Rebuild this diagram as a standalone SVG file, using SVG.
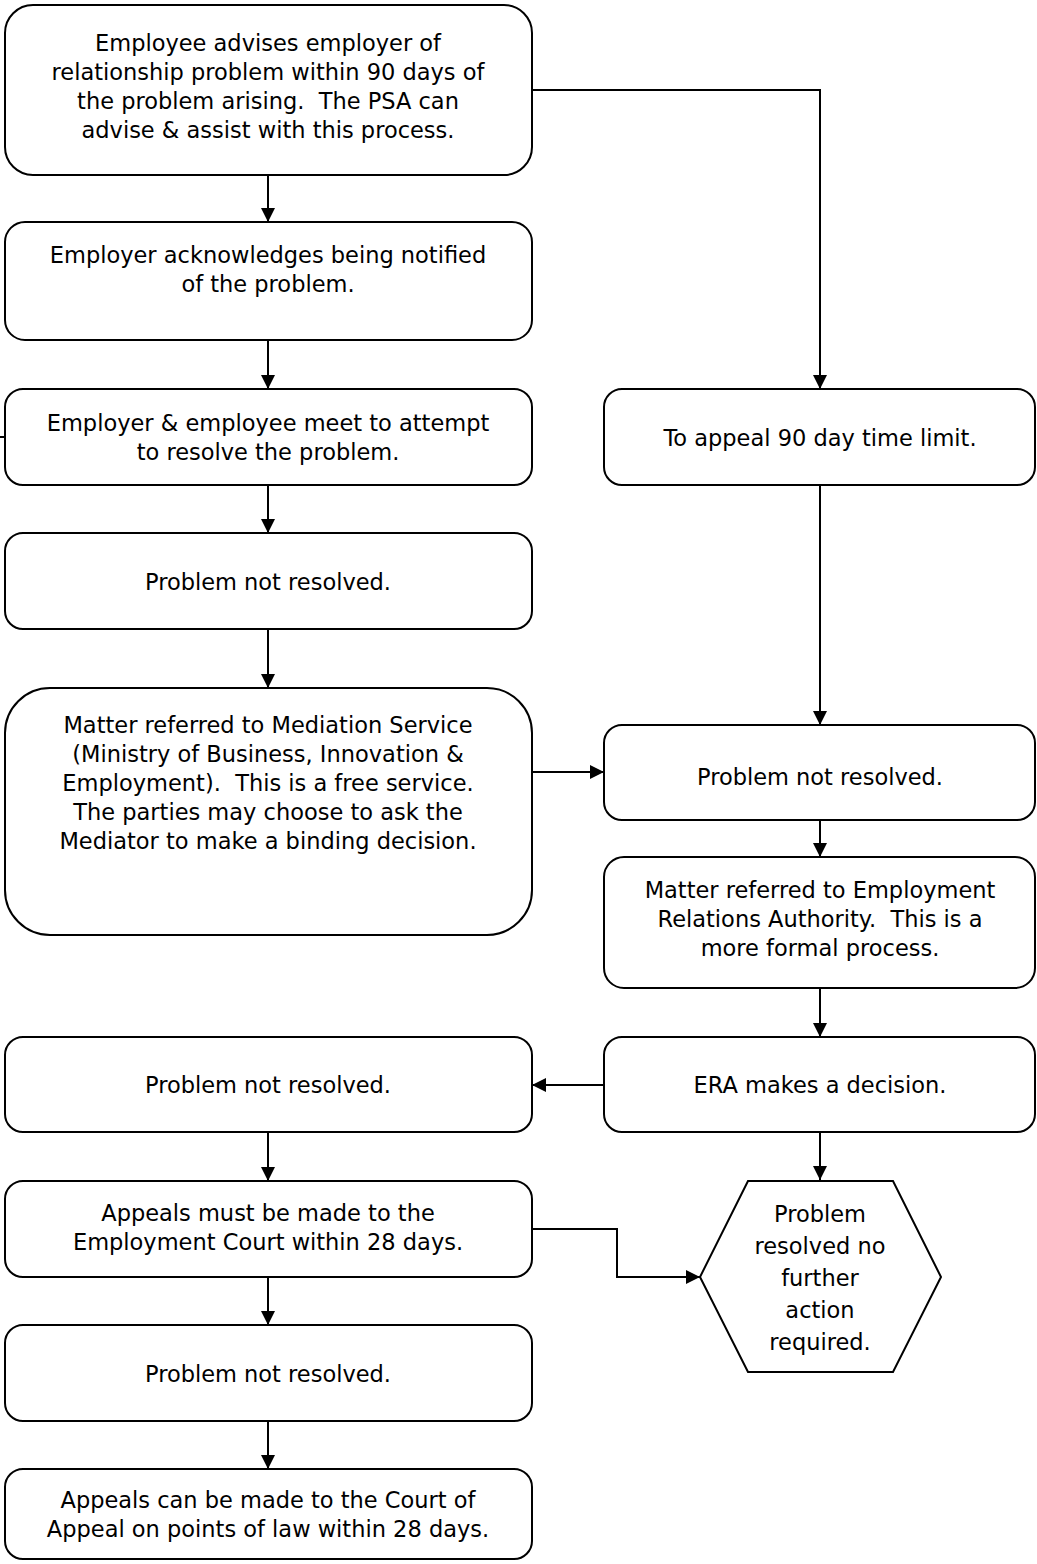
<svg xmlns="http://www.w3.org/2000/svg" width="1037" height="1564" viewBox="0 0 1037 1564">
<style>
.box{fill:#fff;stroke:#000;stroke-width:2}
.t{font-family:"DejaVu Sans",Verdana,sans-serif;font-size:22.5px;fill:#000;text-anchor:middle;white-space:pre}
.c{fill:none;stroke:#000;stroke-width:2}
</style>
<defs>
<marker id="ah" markerWidth="14" markerHeight="14" refX="14" refY="7" orient="auto" markerUnits="userSpaceOnUse">
<path d="M0,0 L14,7 L0,14 Z" fill="#000"/>
</marker>
</defs>
<rect width="1037" height="1564" fill="#fff"/>
<g id="connectors">
<line class="c" x1="268" y1="175" x2="268" y2="222" marker-end="url(#ah)"/>
<line class="c" x1="268" y1="340" x2="268" y2="389" marker-end="url(#ah)"/>
<line class="c" x1="268" y1="485" x2="268" y2="533" marker-end="url(#ah)"/>
<line class="c" x1="268" y1="629" x2="268" y2="688" marker-end="url(#ah)"/>
<polyline class="c" points="532,90 820,90 820,389" marker-end="url(#ah)"/>
<line class="c" x1="820" y1="485" x2="820" y2="725" marker-end="url(#ah)"/>
<line class="c" x1="532" y1="772" x2="604" y2="772" marker-end="url(#ah)"/>
<line class="c" x1="820" y1="820" x2="820" y2="857" marker-end="url(#ah)"/>
<line class="c" x1="820" y1="988" x2="820" y2="1037" marker-end="url(#ah)"/>
<line class="c" x1="604" y1="1085" x2="532" y2="1085" marker-end="url(#ah)"/>
<line class="c" x1="820" y1="1132" x2="820" y2="1180" marker-end="url(#ah)"/>
<line class="c" x1="268" y1="1132" x2="268" y2="1181" marker-end="url(#ah)"/>
<polyline class="c" points="532,1229 617,1229 617,1277 700,1277" marker-end="url(#ah)"/>
<line class="c" x1="268" y1="1277" x2="268" y2="1325" marker-end="url(#ah)"/>
<line class="c" x1="268" y1="1421" x2="268" y2="1469" marker-end="url(#ah)"/>
<line class="c" x1="0" y1="437" x2="5" y2="437"/>
</g>
<g id="n1"><rect class="box" x="5" y="5" width="527" height="170" rx="28"/>
<text class="t" x="268" y="51">Employee advises employer of</text>
<text class="t" x="268" y="80">relationship problem within 90 days of</text>
<text class="t" x="268" y="109">the problem arising.  The PSA can</text>
<text class="t" x="268" y="138">advise &amp; assist with this process.</text></g>
<g id="n2"><rect class="box" x="5" y="222" width="527" height="118" rx="20"/>
<text class="t" x="268" y="263">Employer acknowledges being notified</text>
<text class="t" x="268" y="292">of the problem.</text></g>
<g id="n3"><rect class="box" x="5" y="389" width="527" height="96" rx="18"/>
<text class="t" x="268" y="431">Employer &amp; employee meet to attempt</text>
<text class="t" x="268" y="460">to resolve the problem.</text></g>
<g id="n4"><rect class="box" x="5" y="533" width="527" height="96" rx="18"/>
<text class="t" x="268" y="590">Problem not resolved.</text></g>
<g id="n5"><rect class="box" x="5" y="688" width="527" height="247" rx="45"/>
<text class="t" x="268" y="733">Matter referred to Mediation Service</text>
<text class="t" x="268" y="762">(Ministry of Business, Innovation &amp;</text>
<text class="t" x="268" y="791">Employment).  This is a free service.</text>
<text class="t" x="268" y="820">The parties may choose to ask the</text>
<text class="t" x="268" y="849">Mediator to make a binding decision.</text></g>
<g id="r1"><rect class="box" x="604" y="389" width="431" height="96" rx="18"/>
<text class="t" x="820" y="446">To appeal 90 day time limit.</text></g>
<g id="r2"><rect class="box" x="604" y="725" width="431" height="95" rx="18"/>
<text class="t" x="820" y="785">Problem not resolved.</text></g>
<g id="r3"><rect class="box" x="604" y="857" width="431" height="131" rx="20"/>
<text class="t" x="820" y="898">Matter referred to Employment</text>
<text class="t" x="820" y="927">Relations Authority.  This is a</text>
<text class="t" x="820" y="956">more formal process.</text></g>
<g id="r4"><rect class="box" x="604" y="1037" width="431" height="95" rx="18"/>
<text class="t" x="820" y="1093">ERA makes a decision.</text></g>
<g id="l6"><rect class="box" x="5" y="1037" width="527" height="95" rx="18"/>
<text class="t" x="268" y="1093">Problem not resolved.</text></g>
<g id="l7"><rect class="box" x="5" y="1181" width="527" height="96" rx="18"/>
<text class="t" x="268" y="1221">Appeals must be made to the</text>
<text class="t" x="268" y="1250">Employment Court within 28 days.</text></g>
<g id="l8"><rect class="box" x="5" y="1325" width="527" height="96" rx="18"/>
<text class="t" x="268" y="1382">Problem not resolved.</text></g>
<g id="l9"><rect class="box" x="5" y="1469" width="527" height="90" rx="18"/>
<text class="t" x="268" y="1508">Appeals can be made to the Court of</text>
<text class="t" x="268" y="1537">Appeal on points of law within 28 days.</text></g>
<g id="hex"><polygon class="box" points="748,1181 893,1181 941,1277 893,1372 748,1372 700,1277"/>
<text class="t" x="820" y="1222">Problem</text>
<text class="t" x="820" y="1254">resolved no</text>
<text class="t" x="820" y="1286">further</text>
<text class="t" x="820" y="1318">action</text>
<text class="t" x="820" y="1350">required.</text></g>
</svg>
